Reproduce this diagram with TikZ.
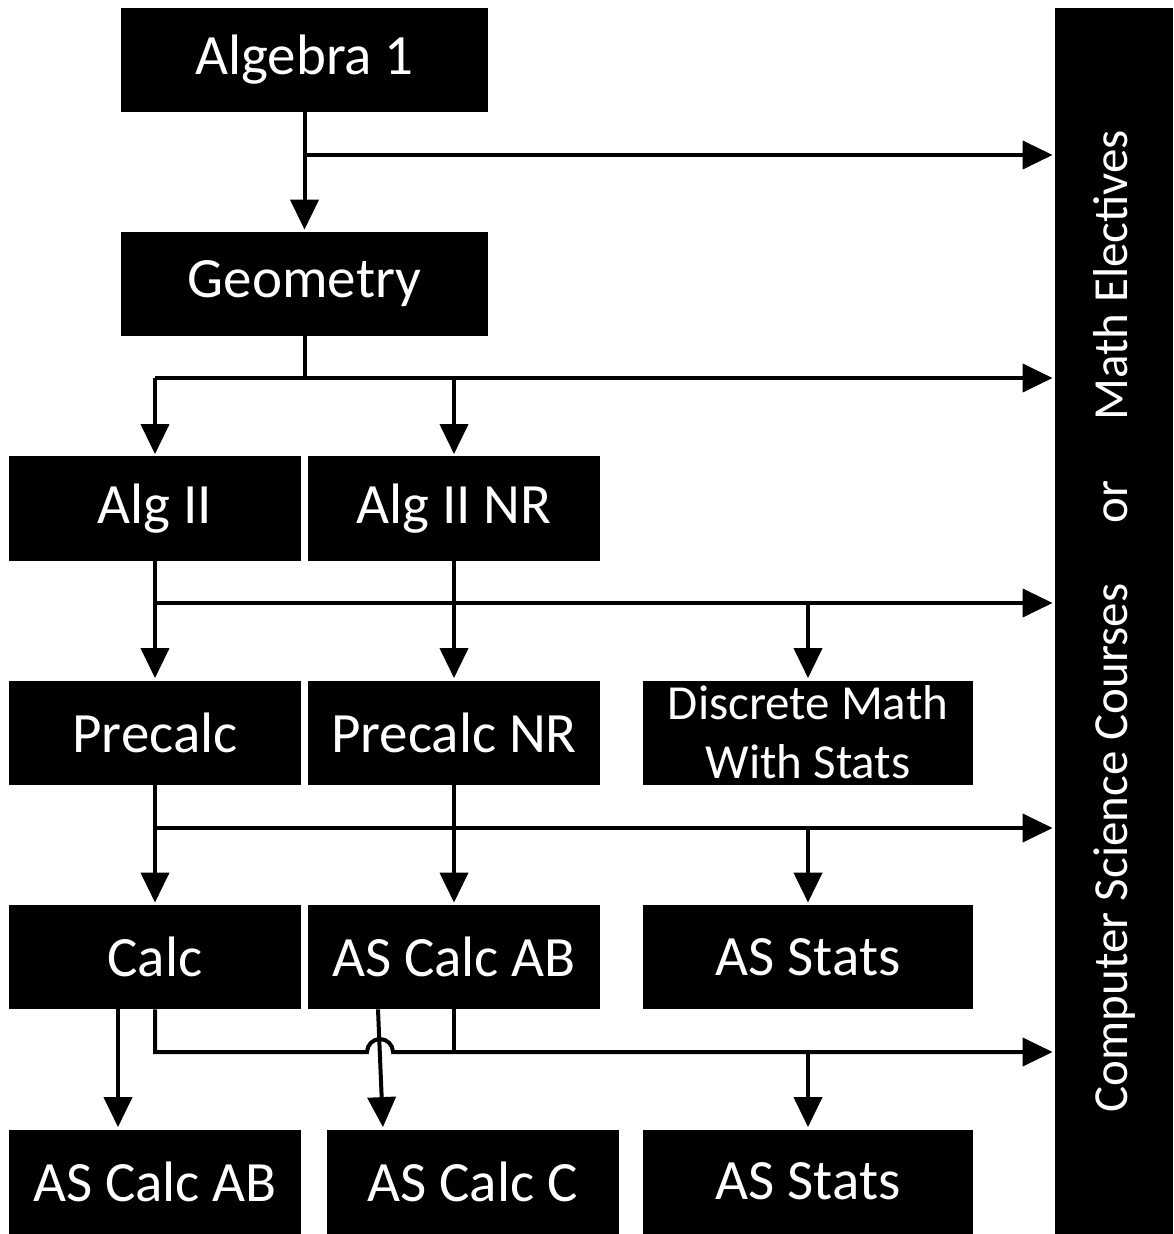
\documentclass[tikz,border=0pt]{standalone}
\usepackage{fontspec}
\setmainfont{Carlito}
\usetikzlibrary{arrows.meta,positioning,calc}

\begin{document}
\begin{tikzpicture}[x=0.5pt,y=-0.5pt,
  course/.style={draw=none, fill=black, text=white, rectangle, inner sep=0pt, minimum height=52pt, font=\fontsize{28.5}{34}\selectfont},
  topbox/.style={course, minimum width=183.5pt},
  colbox/.style={course, minimum width=146pt},
  rightbox/.style={course, minimum width=165pt},
  link/.style={line width=2pt},
  flow/.style={link, -{Triangle[width=14pt,length=15pt]}, shorten >=1pt}
]
\useasboundingbox (0,0) rectangle (1173,1234);

% courses
\node[topbox] (alg1) at (304.5,60) {Algebra 1};
\node[topbox] (geo) at (304.5,284) {Geometry};
\node[colbox] (alg2) at (155,508.5) {Alg II};
\node[colbox] (alg2nr) at (454,508.5) {Alg II NR};
\node[colbox] (pre) at (155,732.5) {Precalc};
\node[colbox] (prenr) at (454,732.5) {Precalc NR};
\node[rightbox, align=center, font=\fontsize{24.5}{29.5}\selectfont] (disc) at (808,732.5) {Discrete Math\\With Stats};
\node[colbox] (calc) at (155,957) {Calc};
\node[colbox] (calcab) at (454,957) {AS Calc AB};
\node[rightbox] (stats) at (808,957) {AS Stats};
\node[colbox] (abfin) at (155,1181.5) {AS Calc AB};
\node[colbox] (calcc) at (472.5,1181.5) {AS Calc C};
\node[rightbox] (statsfin) at (808,1181.5) {AS Stats};
\node[course, rotate=90, minimum width=613pt, minimum height=59pt, font=\fontsize{24.5}{29.5}\selectfont] (elect) at (1114,621)
  {Computer Science Courses\hspace{30pt}or\hspace{30pt}Math Electives};

% bus lines
\coordinate (j1) at (304.5,155);
\coordinate (j2) at (304.5,378);
\coordinate (j3) at (155,603);
\coordinate (j4) at (155,828);
\coordinate (j5) at (155,1052);
\coordinate (hop) at (380,1052);

% algebra 1
\draw[flow] (alg1) -- (geo);
\draw[flow] (j1) -- (j1 -| elect.north);

% geometry
\draw[link] (geo.south) -- (j2);
\draw[flow] (alg2.north |- j2) -- (j2 -| elect.north);
\draw[flow] (alg2.north |- j2) -- (alg2.north);
\draw[flow] (alg2nr.north |- j2) -- (alg2nr.north);

% alg II
\draw[flow] (alg2) -- (pre);
\draw[flow] (alg2nr) -- (prenr);
\draw[flow] (j3) -- (j3 -| elect.north);
\draw[flow] (disc.north |- j3) -- (disc.north);

% precalc
\draw[flow] (pre) -- (calc);
\draw[flow] (prenr) -- (calcab);
\draw[flow] (j4) -- (j4 -| elect.north);
\draw[flow] (stats.north |- j4) -- (stats.north);

% calc
\draw[flow] ([xshift=-18.5pt]calc.south) -- ([xshift=-18.5pt]abfin.north);
\draw[flow] ([xshift=-38pt]calcab.south) -- ([xshift=-44.75pt]calcc.north);
\draw[flow] (calc.south) -- (j5) -- ([xshift=-6.5pt]hop) arc[start angle=180, end angle=360, radius=13] -- (j5 -| elect.north);
\draw[link] (calcab.south) -- (calcab.south |- j5);
\draw[flow] (statsfin.north |- j5) -- (statsfin.north);
\end{tikzpicture}
\end{document}
